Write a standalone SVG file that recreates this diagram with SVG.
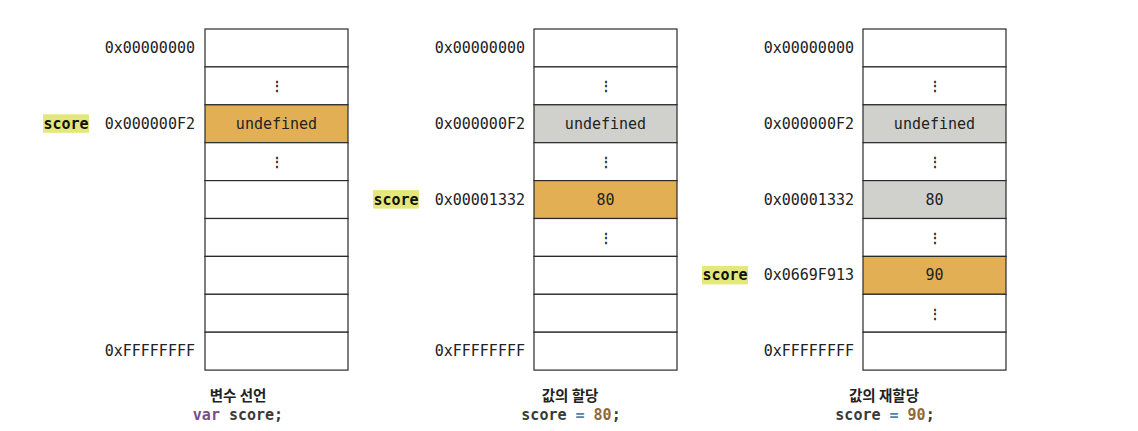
<svg xmlns="http://www.w3.org/2000/svg" width="1138" height="431" viewBox="0 0 1138 431">
<style>
.cell{fill:#ffffff;stroke:#2a2a2a;stroke-width:1.2}
.hot{fill:#E2AF55}
.old{fill:#D0D0CC}
.addr{font-family:"DejaVu Sans Mono","Liberation Mono",monospace;font-size:15px;fill:#222;text-anchor:end}
.val{font-family:"DejaVu Sans Mono","Liberation Mono",monospace;font-size:15px;fill:#222;text-anchor:middle}
.dots{font-family:"DejaVu Sans Mono","Liberation Mono",monospace;font-size:12px;font-weight:bold;fill:#222;text-anchor:middle}
.lbl{font-family:"DejaVu Sans Mono","Liberation Mono",monospace;font-size:15px;font-weight:bold;fill:#111;text-anchor:middle}
.hl{fill:#E4E87A}
.cap{font-family:"Noto Sans CJK KR","Noto Sans",sans-serif;font-size:14.5px;font-weight:bold;fill:#222;text-anchor:middle}
.code{font-family:"DejaVu Sans Mono","Liberation Mono",monospace;font-size:15px;font-weight:bold;fill:#3a3a3a;text-anchor:middle}
.kw{fill:#7A4C8C}
.op{fill:#4C86A8}
.num{fill:#8E6A3A}
</style>
<g id="memory1">
<rect class="cell" x="205" y="29" width="143" height="37.9"/>
<rect class="cell" x="205" y="66.9" width="143" height="37.9"/>
<rect class="cell hot" x="205" y="104.8" width="143" height="37.9"/>
<rect class="cell" x="205" y="142.7" width="143" height="37.9"/>
<rect class="cell" x="205" y="180.6" width="143" height="37.9"/>
<rect class="cell" x="205" y="218.5" width="143" height="37.9"/>
<rect class="cell" x="205" y="256.4" width="143" height="37.9"/>
<rect class="cell" x="205" y="294.3" width="143" height="37.9"/>
<rect class="cell" x="205" y="332.2" width="143" height="37.9"/>
<text class="dots" x="276.5" y="90">⋮</text>
<text class="val" x="276.5" y="128.8">undefined</text>
<text class="dots" x="276.5" y="166">⋮</text>
<text class="addr" x="195" y="53">0x00000000</text>
<text class="addr" x="195" y="128.8">0x000000F2</text>
<text class="addr" x="195" y="356.2">0xFFFFFFFF</text>
<rect class="hl" x="43" y="114.3" width="46" height="18.5"/>
<text class="lbl" x="66" y="128.8">score</text>
<text class="cap" x="238" y="401">변수 선언</text>
<text class="code" x="238" y="420"><tspan class="kw">var</tspan> score;</text>
</g>
<g id="memory2">
<rect class="cell" x="534" y="29" width="143" height="37.9"/>
<rect class="cell" x="534" y="66.9" width="143" height="37.9"/>
<rect class="cell old" x="534" y="104.8" width="143" height="37.9"/>
<rect class="cell" x="534" y="142.7" width="143" height="37.9"/>
<rect class="cell hot" x="534" y="180.6" width="143" height="37.9"/>
<rect class="cell" x="534" y="218.5" width="143" height="37.9"/>
<rect class="cell" x="534" y="256.4" width="143" height="37.9"/>
<rect class="cell" x="534" y="294.3" width="143" height="37.9"/>
<rect class="cell" x="534" y="332.2" width="143" height="37.9"/>
<text class="dots" x="605.5" y="90">⋮</text>
<text class="val" x="605.5" y="128.8">undefined</text>
<text class="dots" x="605.5" y="166">⋮</text>
<text class="val" x="605.5" y="204.6">80</text>
<text class="dots" x="605.5" y="241.8">⋮</text>
<text class="addr" x="525" y="53">0x00000000</text>
<text class="addr" x="525" y="128.8">0x000000F2</text>
<text class="addr" x="525" y="204.6">0x00001332</text>
<text class="addr" x="525" y="356.2">0xFFFFFFFF</text>
<rect class="hl" x="373" y="190.1" width="46" height="18.5"/>
<text class="lbl" x="396" y="204.6">score</text>
<text class="cap" x="570" y="401">값의 할당</text>
<text class="code" x="571" y="420">score <tspan class="op">=</tspan> <tspan class="num">80</tspan>;</text>
</g>
<g id="memory3">
<rect class="cell" x="863" y="29" width="143" height="37.9"/>
<rect class="cell" x="863" y="66.9" width="143" height="37.9"/>
<rect class="cell old" x="863" y="104.8" width="143" height="37.9"/>
<rect class="cell" x="863" y="142.7" width="143" height="37.9"/>
<rect class="cell old" x="863" y="180.6" width="143" height="37.9"/>
<rect class="cell" x="863" y="218.5" width="143" height="37.9"/>
<rect class="cell hot" x="863" y="256.4" width="143" height="37.9"/>
<rect class="cell" x="863" y="294.3" width="143" height="37.9"/>
<rect class="cell" x="863" y="332.2" width="143" height="37.9"/>
<text class="dots" x="934.5" y="90">⋮</text>
<text class="val" x="934.5" y="128.8">undefined</text>
<text class="dots" x="934.5" y="166">⋮</text>
<text class="val" x="934.5" y="204.6">80</text>
<text class="dots" x="934.5" y="241.8">⋮</text>
<text class="val" x="934.5" y="280.4">90</text>
<text class="dots" x="934.5" y="317.6">⋮</text>
<text class="addr" x="854" y="53">0x00000000</text>
<text class="addr" x="854" y="128.8">0x000000F2</text>
<text class="addr" x="854" y="204.6">0x00001332</text>
<text class="addr" x="854" y="280.4">0x0669F913</text>
<text class="addr" x="854" y="356.2">0xFFFFFFFF</text>
<rect class="hl" x="702" y="265.9" width="46" height="18.5"/>
<text class="lbl" x="725" y="280.4">score</text>
<text class="cap" x="884" y="401">값의 재할당</text>
<text class="code" x="885" y="420">score <tspan class="op">=</tspan> <tspan class="num">90</tspan>;</text>
</g>
<g id="connectors"/>
</svg>
